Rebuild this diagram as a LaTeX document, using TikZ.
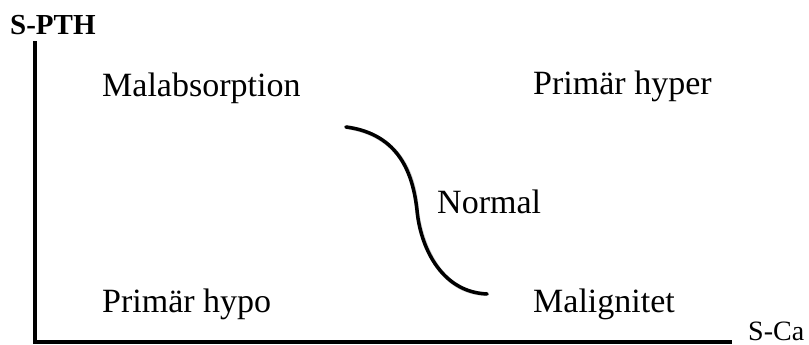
\documentclass[tikz,border=0pt]{standalone}
\usepackage{fontspec}
\setmainfont{Liberation Serif}
\begin{document}
\begin{tikzpicture}[x=1pt,y=-1pt,
  lbl/.style={inner sep=0pt, anchor=base west, font=\fontsize{34}{40}\selectfont},
  axis/.style={line width=4pt, line cap=rect},
  curve/.style={line width=3.5pt, line cap=round},
  shadow/.style={line width=4pt, line cap=round, black!18}]
\useasboundingbox (0,0) rectangle (809,345);
\coordinate (top) at (35,43);
\coordinate (orig) at (35,342);
\coordinate (xend) at (730,342);
\coordinate (c1) at (346,127);
\coordinate (c2) at (417,210);
\coordinate (c3) at (487,294);
% soft shadows
\draw[shadow, shift={(1.5,1.5)}] (top) -- (orig) -- (xend);
\draw[shadow, shift={(1.5,1.5)}] (c1) .. controls (400,134) and (413,175) .. (c2)
  .. controls (420,245) and (440,292) .. (c3);
% axes
\draw[axis] (top) -- (orig) -- (xend);
\node[lbl, font=\fontsize{29}{34}\selectfont\bfseries] (ypth) at (10,35) {S-PTH};
\node[lbl] (mal) at (102,96) {Malabsorption};
\node[lbl] (phyper) at (533,95) {Primär hyper};
\node[lbl] (norm) at (437,213) {Normal};
\node[lbl] (phypo) at (102,312) {Primär hypo};
\node[lbl] (malig) at (533,312) {Malignitet};
\node[lbl, font=\fontsize{28}{34}\selectfont] (sca) at (748,340) {S-Ca};
% curve
\draw[curve] (c1) .. controls (400,134) and (413,175) .. (c2)
  .. controls (420,245) and (440,292) .. (c3);
\end{tikzpicture}
\end{document}
